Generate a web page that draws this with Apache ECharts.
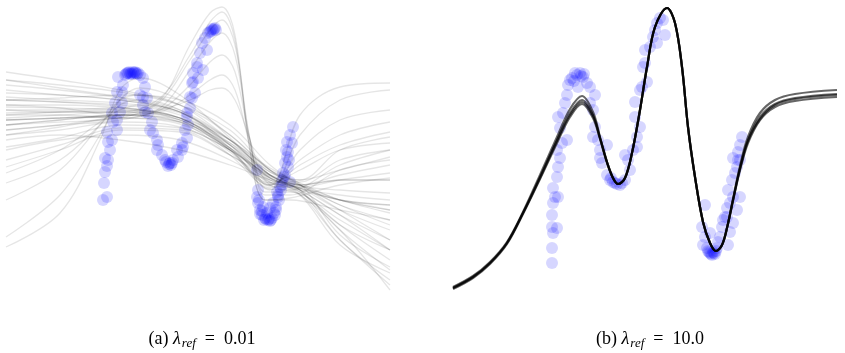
<!DOCTYPE html>
<html>
<head>
<meta charset="utf-8">
<script src="https://cdn.jsdelivr.net/npm/echarts@6/dist/echarts.min.js"></script>
<style>
html, body { margin: 0; padding: 0; background: #fff; }
#chart { width: 845px; height: 353px; }
</style>
</head>
<body>
<div id="chart"></div>
<script>
// panel (a): lambda_ref = 0.01 -- observations
var scatterA = [
  [97,95],[101,98],[98,112],[99,123],[101,129],[102,135],[99,137],[104,145],[102,153],[106,155],
  [101,163],[111,165],[107,173],[111,175],[106,182],[114,183],[109,192],[116,192],[111,203],[116,203],
  [117,210],[112,218],[119,220],[120,221],[122,222],[125,222],[127,223],[128,222],[130,222],[131,221],
  [121,222],[123,223],[126,221],[129,223],[132,222],[124,221],
  [134,220],[137,217],[139,208],[134,200],[137,198],[141,197],[137,190],[139,183],[142,182],[146,173],
  [144,165],[147,162],[151,155],[152,150],[151,145],[156,140],[159,135],[164,132],[162,129],[167,135],
  [163,131],[165,130],[160,133],[166,132],
  [172,138],[176,145],[177,148],[171,145],[176,152],[181,157],[179,165],[182,170],[181,178],[181,182],
  [184,187],[186,197],[184,198],[189,202],[187,213],[186,212],[192,217],[187,222],[197,225],[191,228],
  [191,232],[194,242],[201,245],[196,252],[199,257],[202,262],[204,263],[207,265],[206,266],[209,267],
  [210,265],[205,264],[208,266],[251,125],
  [287,168],[284,160],[281,153],[286,152],[282,143],[280,145],[281,138],[283,135],[279,132],[282,128],
  [277,122],[279,120],[276,115],[284,113],[274,108],[275,105],[271,103],[272,98],[273,95],[267,92],
  [264,87],[270,85],[252,105],[251,98],[252,92],[254,85],[254,81],[256,80],[259,77],[258,75],
  [262,75],[264,74],[266,77],[269,80],[261,82],[257,88],[260,76],[263,76],[265,75],[256,84],
  [268,82],[270,88],[272,100],[276,110],[278,118],[253,95]
];

// panel (b): lambda_ref = 10.0 -- observations
var scatterB = [
  [99,32],[99,47],[100,62],[99,68],[104,67],[99,80],[100,92],[102,98],[105,98],[100,107],
  [104,118],[105,128],[107,137],[104,145],[109,152],[114,155],[107,167],[105,178],[110,182],[112,192],
  [114,200],[115,210],[117,215],[119,217],[122,222],[127,222],[131,221],[130,218],[134,212],[137,208],
  [125,208],[124,220],[128,219],[121,214],
  [142,200],[137,192],[140,185],[142,168],[140,158],[145,155],[147,145],[154,150],[147,137],
  [149,132],[154,120],[157,115],[162,112],[167,110],[172,115],[177,125],[175,135],[180,145],[172,140],
  [160,113],[164,111],[169,112],[158,117],
  [184,148],[184,158],[187,168],[182,178],[182,193],[187,205],[189,208],[194,213],[190,228],[192,232],
  [192,245],[197,248],[200,258],[204,252],[202,265],[212,260],[204,272],[207,277],[210,275],
  [289,158],[287,150],[285,143],[280,137],[287,135],[285,135],[284,128],[282,122],[279,115],[275,105],
  [287,98],[280,98],[277,92],[274,87],[284,85],[272,78],[274,78],[270,75],[280,72],[269,68],
  [277,63],[267,58],[257,62],[265,53],[275,50],[264,47],[260,43],[262,41],[259,40],[257,42],
  [255,44],[254,47],[250,50],[252,58],[249,68],[252,90],[258,41],[261,42],[263,44],[256,43]
];

// panel (a): sampled posterior curves
var xsGentle = [0, 54, 114, 174, 224, 264, 294, 334, 384];
var gentleA = [
  [223,215,205,190,160,125,110,120,130],
  [215,207,198,185,155,120,107,100,95],
  [202,200,195,183,155,123,110,95,82],
  [195,193,190,180,150,117,105,80,55],
  [188,187,185,177,147,115,103,70,35],
  [182,183,183,175,145,117,107,85,65],
  [175,177,180,173,150,120,109,105,102],
  [165,170,177,171,147,118,108,115,122],
  [160,165,173,168,145,119,113,135,145],
  [148,157,170,167,145,120,115,145,158],
  [135,150,167,165,140,115,110,90,75],
  [128,145,165,163,140,117,105,55,15],
  [210,205,197,183,150,110,100,65,5],
  [198,195,192,182,155,127,115,125,138],
  [177,180,183,177,155,125,112,95,85],
  [170,175,180,175,152,123,111,60,28],
  [185,185,187,177,147,113,100,50,22],
  [155,160,155,145,130,115,107,95,90],
  [195,197,200,195,170,130,110,90,70],
  [145,155,160,155,135,113,103,70,45],
  [215,210,203,190,165,125,110,115,115],
  [195,193,188,175,145,110,180,208,212],
  [180,183,185,177,145,105,160,195,205],
  [170,175,180,173,140,107,145,175,185],
  [160,168,177,173,143,110,135,160,173],
  [205,200,195,183,147,110,130,150,163],
  [190,190,187,177,145,112,125,145,152]
];
var xsSteep = [0, 54, 94, 114, 134, 174, 224, 264, 294, 334, 384];
var steepA = [
  [48,82,155,205,217,200,157,120,105,65,25],
  [58,100,160,195,207,195,160,125,110,85,55],
  [95,125,170,195,200,190,155,120,105,80,45],
  [112,135,170,190,195,185,150,117,105,95,85],
  [122,145,173,185,190,183,152,120,110,115,115]
];
var xsPeak = [0, 54, 114, 154, 184, 204, 216, 229, 244, 259, 284, 334, 384];
var peakA = [
  [175,177,180,195,250,282,288,260,145,95,95,85,75],
  [185,183,183,197,240,273,283,255,145,95,97,110,117],
  [170,173,177,193,235,265,275,250,155,100,100,125,135],
  [165,170,175,187,225,253,262,240,155,103,103,75,45],
  [180,180,177,185,210,233,240,223,155,107,105,130,145],
  [190,187,180,183,200,215,220,205,150,110,107,55,10],
  [175,177,179,185,195,205,207,195,155,115,109,95,90]
];

// panel (b): sampled posterior curves
var xsB = [0,20,37,54,70,87,104,117,129,140,147,154,160,165,172,179,187,194,202,214,222,229,235,242,250,257,263,269,274,280,287,295,307,322,342,384];
var curvesB = [
  [8,19,33,53,83,120,158,186,199,183,158,133,117,111,117,142,185,228,268,287,272,228,168,118,73,52,44,50,67,96,129,158,182,195,201,205],
  [7,18,32,52,82,118,155,182,195,180,157,133,117,111,117,142,185,228,268,287,272,228,168,118,73,52,44,50,67,95,127,155,178,191,197,201],
  [6,17,31,51,81,116,152,178,191,177,156,132,117,111,117,142,185,228,268,287,272,228,168,118,73,52,44,50,67,94,125,152,175,188,194,198],
  [7,18,32,52,82,117,154,180,193,179,157,133,117,111,117,142,185,228,268,287,272,228,168,118,73,52,44,50,67,95,126,154,176,190,196,200]
];

var series = [];

function addCurve(xs, ys, idx, opacity, width) {
  var pts = [];
  for (var i = 0; i < xs.length; i++) {
    pts.push([xs[i], ys[i]]);
  }
  series.push({
    type: 'line',
    xAxisIndex: idx,
    yAxisIndex: idx,
    data: pts,
    smooth: 0.35,
    symbol: 'none',
    silent: true,
    z: 3,
    lineStyle: { color: '#000', opacity: opacity, width: width }
  });
}

series.push({
  type: 'scatter', xAxisIndex: 0, yAxisIndex: 0, data: scatterA,
  symbolSize: 12, silent: true, z: 2,
  itemStyle: { color: 'rgba(0,0,255,0.2)' }
});
series.push({
  type: 'scatter', xAxisIndex: 1, yAxisIndex: 1, data: scatterB,
  symbolSize: 12, silent: true, z: 2,
  itemStyle: { color: 'rgba(0,0,255,0.2)' }
});

gentleA.forEach(function (ys) { addCurve(xsGentle, ys, 0, 0.1, 1.3); });
steepA.forEach(function (ys) { addCurve(xsSteep, ys, 0, 0.1, 1.3); });
peakA.forEach(function (ys) { addCurve(xsPeak, ys, 0, 0.1, 1.3); });
curvesB.forEach(function (ys) { addCurve(xsB, ys, 1, 0.6, 2.2); });

var captionRich = {
  n: { fontFamily: 'Liberation Serif', fontSize: 18, fontWeight: 'normal', color: '#000' },
  i: { fontFamily: 'Liberation Serif', fontSize: 18, fontWeight: 'normal', fontStyle: 'italic', color: '#000' },
  s: { fontFamily: 'Liberation Serif', fontSize: 13, fontWeight: 'normal', fontStyle: 'italic', color: '#000', padding: [9, 0, 0, 1], verticalAlign: 'bottom' }
};

var option = {
  animation: false,
  backgroundColor: '#fff',
  title: [
    { text: '{n|(a) }{i|λ}{s|ref}{n|  =  0.01}', left: 197, top: 323, textAlign: 'center', textStyle: { fontWeight: 'normal', rich: captionRich } },
    { text: '{n|(b) }{i|λ}{s|ref}{n|  =  10.0}', left: 645, top: 323, textAlign: 'center', textStyle: { fontWeight: 'normal', rich: captionRich } }
  ],
  grid: [
    { left: 6, top: 5, width: 384, height: 290 },
    { left: 453, top: 5, width: 384, height: 290 }
  ],
  xAxis: [
    { gridIndex: 0, type: 'value', min: 0, max: 384, show: false },
    { gridIndex: 1, type: 'value', min: 0, max: 384, show: false }
  ],
  yAxis: [
    { gridIndex: 0, type: 'value', min: 0, max: 290, show: false },
    { gridIndex: 1, type: 'value', min: 0, max: 290, show: false }
  ],
  series: series
};

var myChart = echarts.init(document.getElementById('chart'));
myChart.setOption(option);
</script>
</body>
</html>
